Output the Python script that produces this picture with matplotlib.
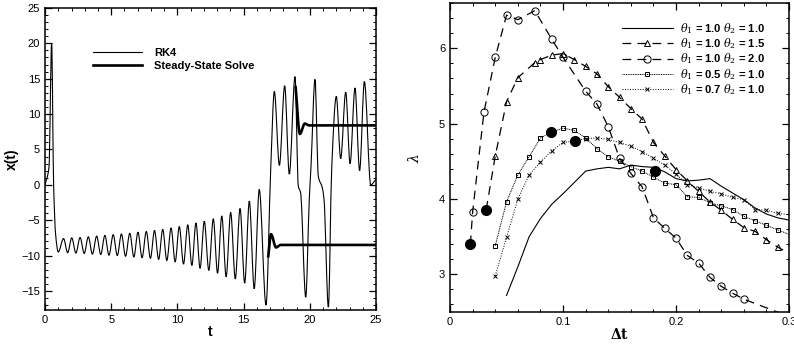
import numpy as np
import matplotlib
matplotlib.use("Agg")
from matplotlib import pyplot as plt
from matplotlib.path import Path
from matplotlib.patches import PathPatch
from matplotlib.lines import Line2D
from matplotlib.ticker import MultipleLocator

plt.rcParams['font.family'] = ['Liberation Sans', 'DejaVu Sans']
plt.rcParams['mathtext.fontset'] = 'dejavuserif'

# ---- left panel: RK4 time history, read as turning points of the curve ----
rk4_t = [0.0, 0.3, 0.5, 0.65, 0.8, 1.0,
         1.40, 1.71, 2.02, 2.33, 2.65, 2.96, 3.27, 3.58, 3.90, 4.21, 4.52, 4.83,
         5.15, 5.46, 5.77, 6.08, 6.40, 6.71, 7.02, 7.33, 7.65, 7.96, 8.27, 8.58,
         8.89, 9.20, 9.52, 9.83, 10.14, 10.46, 10.78, 11.09, 11.40, 11.71, 12.03,
         12.37, 12.71, 13.03, 13.35, 13.68, 14.02, 14.37, 14.73, 15.08, 15.43,
         15.80, 16.18, 16.69, 17.05, 17.32, 17.70, 18.10, 18.45, 18.88, 19.13,
         19.30, 19.69, 19.96, 20.09, 20.39, 20.64, 20.94, 21.07, 21.40, 21.65,
         22.00, 22.33, 22.71, 23.04, 23.41, 23.76, 24.12, 24.60, 25.0]
rk4_x = [0.0, 2.5, 20.0, 0.0, -7.0, -9.5,
         -7.6, -9.6, -7.5, -9.65, -7.45, -9.7, -7.35, -9.8, -7.25, -9.85, -7.15, -9.95,
         -7.05, -10.0, -6.95, -10.1, -6.85, -10.2, -6.7, -10.3, -6.6, -10.4, -6.45, -10.55,
         -6.3, -10.7, -6.1, -10.9, -5.9, -11.2, -5.65, -11.4, -5.4, -11.8, -5.15,
         -12.1, -4.8, -12.5, -4.4, -13.0, -3.9, -13.3, -3.35, -13.9, -2.3,
         -14.7, -0.65, -17.0, 2.5, 13.2, 2.75, 14.0, 1.5, 15.3, -0.2,
         -1.1, -15.9, -2.0, 2.65, 14.9, 1.2, -0.4, -2.0, -17.3, 2.2,
         12.5, 3.7, 13.1, 3.0, 13.7, 2.0, 14.6, 0.0, 0.8]

ss_low_t = [16.85, 17.07, 17.45, 17.80, 25.0]
ss_low_x = [-10.3, -7.0, -8.85, -8.5, -8.5]
ss_up_t = [18.92, 19.25, 19.62, 19.95, 25.0]
ss_up_x = [14.0, 7.2, 8.65, 8.4, 8.4]

# ---- right panel: lambda vs dt ----
th11_dt = [0.05, 0.06, 0.07, 0.08, 0.09, 0.10, 0.11, 0.12, 0.13, 0.14, 0.15, 0.16,
           0.17, 0.18, 0.19, 0.20, 0.21, 0.22, 0.23, 0.24, 0.25, 0.26, 0.27, 0.28,
           0.29, 0.30]
th11_lam = [2.72, 3.10, 3.50, 3.74, 3.93, 4.07, 4.22, 4.37, 4.40, 4.42, 4.40, 4.45,
            4.43, 4.42, 4.36, 4.27, 4.24, 4.25, 4.27, 4.17, 4.08, 3.99, 3.88, 3.80,
            3.75, 3.72]

th15_dt = [0.032, 0.04, 0.05, 0.06, 0.075, 0.08, 0.09, 0.10, 0.11, 0.12, 0.13, 0.14,
           0.15, 0.16, 0.17, 0.18, 0.19, 0.20, 0.21, 0.22, 0.23, 0.24, 0.25, 0.26,
           0.27, 0.28, 0.29, 0.30]
th15_lam = [3.86, 4.57, 5.29, 5.61, 5.81, 5.85, 5.91, 5.93, 5.85, 5.76, 5.66, 5.49,
            5.35, 5.20, 5.06, 4.75, 4.57, 4.39, 4.24, 4.10, 3.96, 3.85, 3.73, 3.62,
            3.57, 3.46, 3.36, 3.28]

th20_dt = [0.018, 0.02, 0.03, 0.04, 0.05, 0.06, 0.075, 0.09, 0.10, 0.12, 0.13, 0.14,
           0.15, 0.16, 0.17, 0.18, 0.19, 0.20, 0.21, 0.22, 0.23, 0.24, 0.25, 0.26,
           0.30]
th20_lam = [3.40, 3.83, 5.15, 5.88, 6.44, 6.38, 6.50, 6.12, 5.88, 5.43, 5.26, 4.96,
            4.54, 4.34, 4.16, 3.75, 3.61, 3.48, 3.25, 3.15, 2.96, 2.84, 2.75, 2.67,
            2.44]

th05_dt = [0.04, 0.05, 0.06, 0.07, 0.08, 0.09, 0.10, 0.11, 0.12, 0.13, 0.14, 0.15,
           0.16, 0.17, 0.18, 0.19, 0.20, 0.21, 0.22, 0.23, 0.24, 0.25, 0.26, 0.27,
           0.28, 0.29, 0.30]
th05_lam = [3.38, 3.96, 4.32, 4.56, 4.81, 4.89, 4.94, 4.91, 4.81, 4.67, 4.56, 4.50,
            4.43, 4.37, 4.29, 4.21, 4.19, 4.03, 4.02, 3.95, 3.91, 3.86, 3.77, 3.71,
            3.65, 3.59, 3.53]

th07_dt = [0.04, 0.05, 0.06, 0.07, 0.08, 0.09, 0.10, 0.11, 0.12, 0.13, 0.14, 0.15,
           0.16, 0.17, 0.18, 0.19, 0.20, 0.21, 0.22, 0.23, 0.24, 0.25, 0.26, 0.27,
           0.28, 0.29, 0.30]
th07_lam = [2.98, 3.49, 4.00, 4.32, 4.49, 4.64, 4.75, 4.77, 4.80, 4.81, 4.79, 4.75,
            4.70, 4.63, 4.54, 4.45, 4.33, 4.19, 4.15, 4.10, 4.07, 4.02, 3.99, 3.86,
            3.85, 3.81, 3.79]

dot_dt = [0.018, 0.032, 0.089, 0.111, 0.1815]
dot_lam = [3.40, 3.86, 4.89, 4.77, 4.37]


def smooth_path(ts, xs):
    # monotone cubic through the read points, drawn as bezier segments
    ts = np.asarray(ts, float)
    xs = np.asarray(xs, float)
    h = np.diff(ts)
    d = np.diff(xs) / h
    m = np.zeros(len(ts))
    m[0], m[-1] = d[0], d[-1]
    for i in range(1, len(ts) - 1):
        if d[i - 1] * d[i] > 0:
            w1 = 2 * h[i] + h[i - 1]
            w2 = h[i] + 2 * h[i - 1]
            m[i] = (w1 + w2) / (w1 / d[i - 1] + w2 / d[i])
    verts = [(ts[0], xs[0])]
    codes = [Path.MOVETO]
    for i in range(len(h)):
        verts += [(ts[i] + h[i] / 3, xs[i] + m[i] * h[i] / 3),
                  (ts[i + 1] - h[i] / 3, xs[i + 1] - m[i + 1] * h[i] / 3),
                  (ts[i + 1], xs[i + 1])]
        codes += [Path.CURVE4] * 3
    return Path(verts, codes)


def style_axes(ax):
    for s in ax.spines.values():
        s.set_linewidth(1.1)
    ax.tick_params(which='both', direction='in', top=True, right=True,
                   labelsize=8)
    ax.tick_params(which='major', length=5, width=0.9)
    ax.tick_params(which='minor', length=2.5, width=0.7)


fig = plt.figure(figsize=(7.94, 3.44), dpi=100)

ax1 = fig.add_axes([0.0567, 0.0988, 0.4169, 0.878])
ax1.add_patch(PathPatch(smooth_path(rk4_t, rk4_x), fill=False, lw=0.8,
                        ec='k', zorder=2))
ax1.add_patch(PathPatch(smooth_path(ss_low_t, ss_low_x), fill=False, lw=1.9,
                        ec='k', zorder=3))
ax1.add_patch(PathPatch(smooth_path(ss_up_t, ss_up_x), fill=False, lw=1.9,
                        ec='k', zorder=3))
ax1.set_xlim(0, 25)
ax1.set_ylim(-17.7, 25)
ax1.xaxis.set_major_locator(MultipleLocator(5))
ax1.xaxis.set_minor_locator(MultipleLocator(1))
ax1.yaxis.set_major_locator(MultipleLocator(5))
ax1.yaxis.set_minor_locator(MultipleLocator(1))
style_axes(ax1)
ax1.set_xlabel('t', fontsize=10, fontweight='bold', labelpad=0)
ax1.set_ylabel('x(t)', fontsize=10, fontweight='bold', labelpad=2)
handles = [Line2D([], [], color='k', lw=0.8), Line2D([], [], color='k', lw=1.9)]
ax1.legend(handles, ['RK4', 'Steady-State Solve'], loc='upper left',
           bbox_to_anchor=(0.115, 0.9), frameon=False, handlelength=4.4,
           handletextpad=1.1, labelspacing=0.25,
           prop={'size': 8, 'weight': 'bold'})

ax2 = fig.add_axes([0.5668, 0.093, 0.427, 0.898])
ax2.plot(th11_dt, th11_lam, '-', color='k', lw=0.8,
         label=r'$\theta_1$ = 1.0 $\theta_2$ = 1.0')
ax2.plot(th15_dt, th15_lam, color='k', lw=0.9, ls=(0, (7, 5)), marker='^',
         ms=4.5, mfc='none', mew=0.7, markevery=slice(1, -1),
         label=r'$\theta_1$ = 1.0 $\theta_2$ = 1.5')
ax2.plot(th20_dt, th20_lam, color='k', lw=0.9, ls=(0, (7, 5)), marker='o',
         ms=5.2, mfc='none', mew=0.7, markevery=slice(1, -1),
         label=r'$\theta_1$ = 1.0 $\theta_2$ = 2.0')
ax2.plot(th05_dt, th05_lam, color='k', lw=0.7, ls=(0, (1, 0.8)), marker='s',
         ms=3.2, mfc='none', mew=0.7, markevery=slice(0, -1),
         label=r'$\theta_1$ = 0.5 $\theta_2$ = 1.0')
ax2.plot(th07_dt, th07_lam, color='k', lw=0.7, ls=(0, (1, 1.6)), marker='x',
         ms=2.5, mew=0.7, markevery=slice(0, -1),
         label=r'$\theta_1$ = 0.7 $\theta_2$ = 1.0')
ax2.plot(dot_dt, dot_lam, 'o', color='k', ms=7, zorder=5)
ax2.set_xlim(0, 0.3)
ax2.set_ylim(2.5, 6.6)
ax2.xaxis.set_major_locator(MultipleLocator(0.1))
ax2.xaxis.set_minor_locator(MultipleLocator(0.02))
ax2.yaxis.set_major_locator(MultipleLocator(1))
ax2.yaxis.set_minor_locator(MultipleLocator(0.2))
ax2.set_xticks([0, 0.1, 0.2, 0.3])
ax2.set_xticklabels(['0', '0.1', '0.2', '0.3'])
style_axes(ax2)
ax2.set_xlabel(r'$\mathbf{\Delta t}$', fontsize=10, labelpad=0)
ax2.set_ylabel(r'$\lambda$', fontsize=10, labelpad=12)
ax2.legend(loc='upper right', bbox_to_anchor=(0.96, 0.975), frameon=False,
           handlelength=4.6, handletextpad=0.7, labelspacing=0.05,
           prop={'size': 8, 'weight': 'bold'})

fig.savefig('out.png', dpi=100)
